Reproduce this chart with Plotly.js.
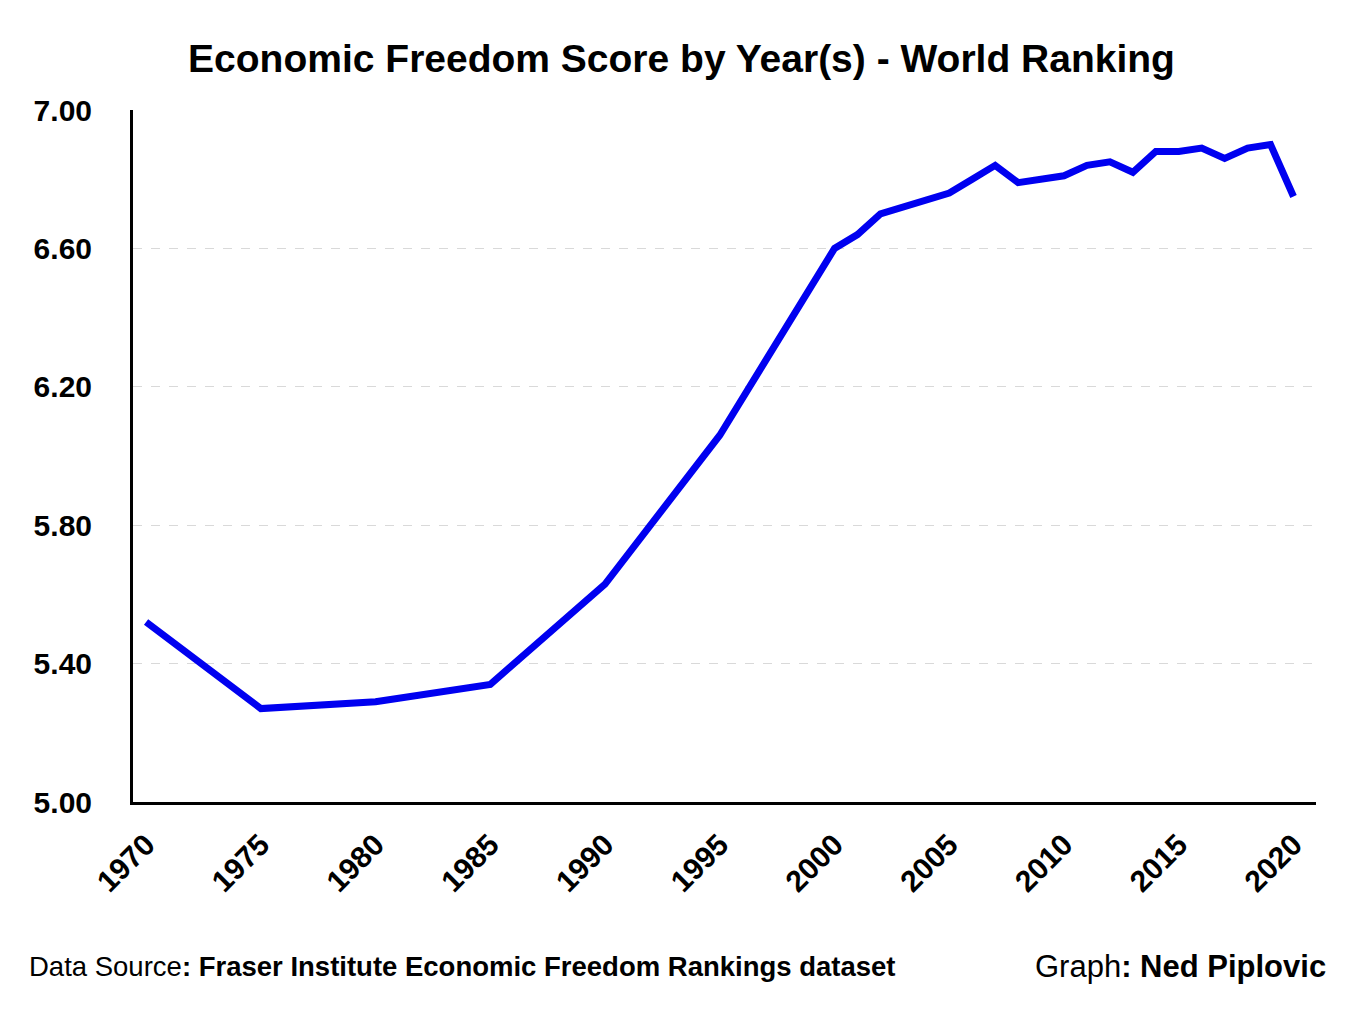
<!DOCTYPE html>
<html>
<head>
<meta charset="utf-8">
<script src="https://cdn.plot.ly/plotly-3.0.1.min.js"></script>
<style>
  html, body { margin: 0; padding: 0; background: #ffffff; }
  #chart { width: 1363px; height: 1010px; }
</style>
</head>
<body>
<div id="chart"></div>
<script>
// Data
const years = [1970, 1975, 1980, 1985, 1990, 1995, 2000, 2001, 2002, 2003, 2004, 2005, 2006, 2007, 2008, 2009, 2010, 2011, 2012, 2013, 2014, 2015, 2016, 2017, 2018, 2019, 2020];
const scores = [5.52, 5.27, 5.29, 5.34, 5.63, 6.06, 6.60, 6.64, 6.70, 6.72, 6.74, 6.76, 6.80, 6.84, 6.79, 6.80, 6.81, 6.84, 6.85, 6.82, 6.88, 6.88, 6.89, 6.86, 6.89, 6.90, 6.75];
const xTickVals = [1970, 1975, 1980, 1985, 1990, 1995, 2000, 2005, 2010, 2015, 2020];
const xTickText = ['1970', '1975', '1980', '1985', '1990', '1995', '2000', '2005', '2010', '2015', '2020'];
const yTickVals = [5.0, 5.4, 5.8, 6.2, 6.6, 7.0];
const yTickText = ['5.00', '5.40', '5.80', '6.20', '6.60', '7.00'];

const titleText = 'Economic Freedom Score by Year(s) - World Ranking';
const sourceText = 'Data Source<b>: Fraser Institute Economic Freedom Rankings dataset</b>';
const creditText = 'Graph<b>: Ned Piplovic</b>';

const FONT = 'Liberation Sans, Arial, sans-serif';

const trace = {
  x: years,
  y: scores,
  type: 'scatter',
  mode: 'lines',
  line: { color: '#0000f0', width: 7 },
  hoverinfo: 'x+y'
};

const layout = {
  width: 1363,
  height: 1010,
  paper_bgcolor: '#ffffff',
  plot_bgcolor: '#ffffff',
  margin: { l: 133, r: 47, t: 110, b: 208 },
  showlegend: false,
  font: { family: FONT, color: '#000000' },
  title: {
    text: '<b>' + titleText + '</b>',
    font: { family: FONT, size: 39, color: '#000000' },
    x: 0.5, xanchor: 'center', xref: 'container',
    y: 1 - 58 / 1010, yanchor: 'middle', yref: 'container'
  },
  xaxis: {
    range: [1969.43, 2020.98],
    tickmode: 'array',
    tickvals: xTickVals,
    ticktext: xTickText,
    tickangle: -45,
    tickfont: { family: FONT, size: 30, color: '#000000', weight: 'bold' },
    showgrid: false,
    zeroline: false,
    showline: true,
    linecolor: '#000000',
    linewidth: 3,
    ticks: '',
    ticklabelstandoff: 10
  },
  yaxis: {
    range: [5, 7],
    tickmode: 'array',
    tickvals: yTickVals,
    ticktext: yTickText,
    tickfont: { family: FONT, size: 30, color: '#000000', weight: 'bold' },
    showgrid: true,
    gridcolor: '#d9d9d9',
    gridwidth: 1,
    griddash: 'dash',
    zeroline: false,
    showline: true,
    linecolor: '#000000',
    linewidth: 3,
    ticks: '',
    ticklabelstandoff: 32
  },
  annotations: [
    {
      text: sourceText,
      xref: 'paper', yref: 'paper',
      x: (27 - 133) / (1363 - 133 - 47), xanchor: 'left',
      y: -(967 - 802) / (802 - 110), yanchor: 'middle',
      showarrow: false,
      font: { family: FONT, size: 27.5, color: '#000000' }
    },
    {
      text: creditText,
      xref: 'paper', yref: 'paper',
      x: (1328 - 133) / (1363 - 133 - 47), xanchor: 'right',
      y: -(967 - 802) / (802 - 110), yanchor: 'middle',
      showarrow: false,
      font: { family: FONT, size: 31, color: '#000000' }
    }
  ]
};

Plotly.newPlot('chart', [trace], layout, { displayModeBar: false, staticPlot: true });
</script>
</body>
</html>
